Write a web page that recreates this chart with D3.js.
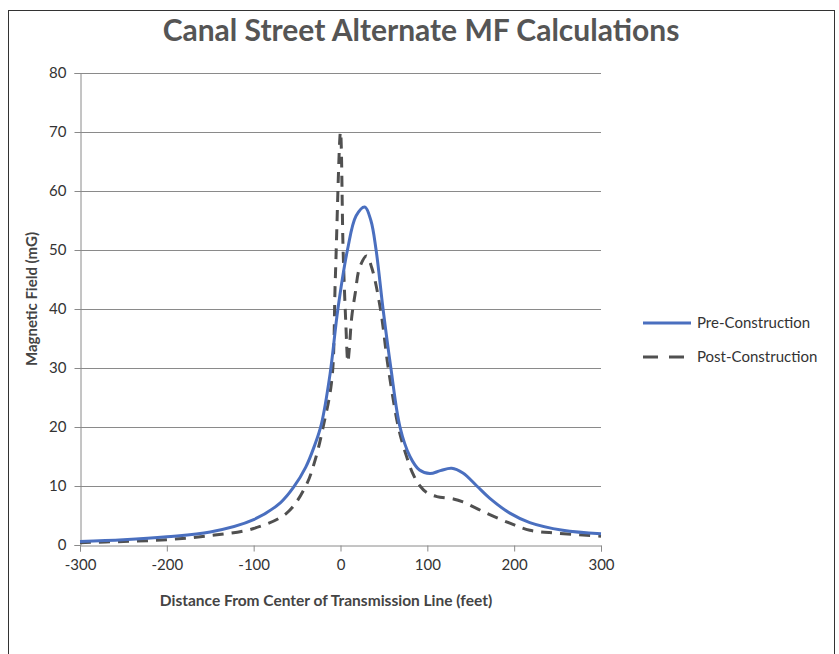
<!DOCTYPE html>
<html>
<head>
<meta charset="utf-8">
<script src="https://cdn.jsdelivr.net/npm/d3@7"></script>
<style>
  body { margin: 0; background: #fff; }
  svg { display: block; }
</style>
</head>
<body>
<div id="chart"></div>
<script>
const title = "Canal Street Alternate MF Calculations";
const xTicks = [-300, -200, -100, 0, 100, 200, 300];
const yTicks = [0, 10, 20, 30, 40, 50, 60, 70, 80];

const preDistance = [-300, -250, -200, -150, -100, -69, -54, -40, -30, -22, -12, -3, 8, 18, 28, 35, 41, 49, 58, 68.5, 80, 91, 103, 115, 128, 141, 157, 172, 195, 218, 256, 300];
const preField = [0.6, 0.9, 1.4, 2.2, 4.3, 7.2, 9.8, 13.2, 16.8, 20.5, 29, 40, 50, 55.8, 57.3, 55, 50, 40, 30, 20, 15, 12.7, 12.1, 12.6, 13, 12.2, 10, 7.9, 5.4, 3.8, 2.5, 1.9];

const postDistance = [-300, -250, -200, -150, -100, -62, -40, -30, -20, -10, -6, 0, 3, 6, 8.5, 10, 13, 17, 22, 30, 36, 46, 55, 66.6, 75, 83.6, 91.6, 100, 111, 130, 141, 168, 195, 218, 249, 300];
const postField = [0.4, 0.6, 0.9, 1.6, 2.8, 5.4, 10, 14, 20, 28, 45, 70, 50, 38, 31, 33, 38.7, 42.7, 47, 49, 47, 40, 30, 20, 15.5, 12, 10, 8.8, 8.2, 7.8, 7.3, 5.4, 3.7, 2.5, 2.0, 1.5];

const series = [
  { name: "Pre-Construction", values: preDistance.map((d, i) => ({ x: d, y: preField[i] })), color: "#4a6fbf", dash: null },
  { name: "Post-Construction", values: postDistance.map((d, i) => ({ x: d, y: postField[i] })), color: "#505050", dash: "11,8" }
];

const W = 839, H = 654;
const plot = { left: 80, right: 601, top: 73, bottom: 545 };
const font = "Lato, 'Open Sans', sans-serif";

const svg = d3.select("#chart")
  .append("svg")
  .attr("width", W)
  .attr("height", H);

// outer frame
svg.append("rect")
  .attr("x", 8.5).attr("y", 10.5)
  .attr("width", 826).attr("height", 660)
  .attr("fill", "none")
  .attr("stroke", "#333")
  .attr("stroke-width", 1);

const x = d3.scaleLinear().domain([-300, 300]).range([plot.left, plot.right]);
const y = d3.scaleLinear().domain([0, 80]).range([plot.bottom, plot.top]);

// gridlines
svg.append("g")
  .selectAll("line")
  .data(yTicks.filter(d => d > 0))
  .join("line")
  .attr("x1", plot.left).attr("x2", plot.right)
  .attr("y1", d => Math.round(y(d)) + 0.5).attr("y2", d => Math.round(y(d)) + 0.5)
  .attr("stroke", "#8a8a8a")
  .attr("stroke-width", 1);

const yAxis = svg.append("g")
  .attr("transform", `translate(${plot.left + 0.5},0)`)
  .call(d3.axisLeft(y).tickValues(yTicks).tickSize(6).tickPadding(8).tickFormat(d => String(d)));

const xAxis = svg.append("g")
  .attr("transform", `translate(0,${plot.bottom + 0.5})`)
  .call(d3.axisBottom(x).tickValues(xTicks).tickSize(6).tickPadding(8).tickFormat(d => String(d)));

[yAxis, xAxis].forEach(g => {
  g.select(".domain").attr("stroke", "#8a8a8a");
  g.selectAll(".tick line").attr("stroke", "#8a8a8a");
  g.selectAll("text")
    .style("font-family", font)
    .style("font-size", "15px")
    .attr("fill", "#333");
});

const line = d3.line()
  .x(d => x(d.x))
  .y(d => y(d.y))
  .curve(d3.curveCatmullRom.alpha(0.5));

// draw post first, pre on top
[series[1], series[0]].forEach(s => {
  svg.append("path")
    .datum(s.values)
    .attr("fill", "none")
    .attr("stroke", s.color)
    .attr("stroke-width", 3)
    .attr("stroke-dasharray", s.dash)
    .attr("d", line);
});

svg.append("text")
  .attr("x", 421)
  .attr("y", 41)
  .attr("text-anchor", "middle")
  .style("font-family", font)
  .style("font-size", "30px")
  .style("font-weight", "bold")
  .attr("fill", "#555")
  .text(title);

svg.append("text")
  .attr("x", 326)
  .attr("y", 606)
  .attr("text-anchor", "middle")
  .style("font-family", font)
  .style("font-size", "15.5px")
  .style("font-weight", "bold")
  .attr("fill", "#444")
  .text("Distance From Center of Transmission Line (feet)");

svg.append("text")
  .attr("transform", "rotate(-90)")
  .attr("x", -299)
  .attr("y", 37)
  .attr("text-anchor", "middle")
  .style("font-family", font)
  .style("font-size", "15px")
  .style("font-weight", "bold")
  .attr("fill", "#444")
  .text("Magnetic Field (mG)");

const legend = svg.append("g").attr("transform", "translate(643, 323)");
series.forEach((s, i) => {
  const row = legend.append("g").attr("transform", `translate(0, ${i * 34})`);
  row.append("line")
    .attr("x1", 0).attr("x2", s.dash ? 41 : 48)
    .attr("y1", 0).attr("y2", 0)
    .attr("stroke", s.color)
    .attr("stroke-width", 3)
    .attr("stroke-dasharray", s.dash ? "15,11" : null);
  row.append("text")
    .attr("x", 54)
    .attr("y", 5)
    .style("font-family", font)
    .style("font-size", "15px")
    .attr("fill", "#333")
    .text(s.name);
});
</script>
</body>
</html>
